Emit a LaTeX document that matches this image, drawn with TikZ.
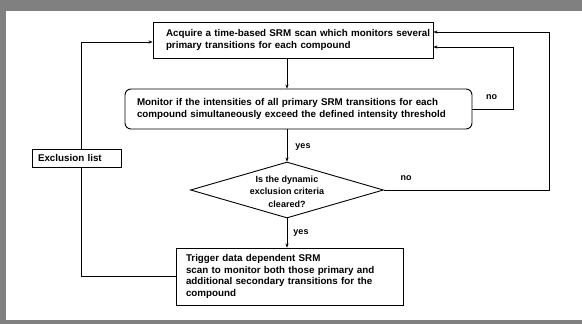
\documentclass[tikz,border=0pt]{standalone}
\usepackage{fontspec}
\setmainfont{Liberation Sans}
\usetikzlibrary{shapes.geometric,arrows.meta}
\definecolor{framegray}{RGB}{128,128,128}
\begin{document}
\begin{tikzpicture}[x=1pt,y=-1pt,
  every node/.style={font=\fontsize{9}{11.5}\selectfont\bfseries},
  box/.style={draw=black,line width=0.9pt,fill=white,inner xsep=0pt,inner ysep=0pt,align=left,
    font={\fontsize{9.8}{11.6}\selectfont\bfseries}},
  conn/.style={draw=black,line width=0.8pt},
  arr/.style={conn,-{Stealth[length=4pt,width=3.2pt]}},
  lbl/.style={inner sep=0pt}]
\useasboundingbox (0,0) rectangle (582,324);
\fill[framegray] (0,0) rectangle (582,324);
\fill[white] (6,11) rectangle (582,320);

\node[box,minimum width=280pt,minimum height=36pt,text width=254pt] (b1) at (293,40)
  {\mbox{Acquire a time-based SRM scan which monitors several}\\primary transitions for each compound};
\node[box,rounded corners=6pt,minimum width=347pt,minimum height=40pt,text width=323pt] (b2) at (298.5,109)
  {Monitor if the intensities of all primary SRM transitions for each\\compound simultaneously exceed the defined intensity threshold};
\node[diamond,draw=black,line width=0.9pt,minimum width=193pt,minimum height=56pt,inner sep=0pt] (d) at (287,190) {};
\node[align=center,inner sep=0pt,font=\fontsize{9}{12.3}\selectfont\bfseries] (dt) at (287,191.5)
  {Is the dynamic\\exclusion criteria\\cleared?};
\node[box,minimum width=227pt,minimum height=57pt,text width=207pt] (b3) at (289.5,276.5)
  {Trigger data dependent SRM\\scan to monitor both those primary and\\additional secondary transitions for the\\compound};
\node[box,minimum width=89pt,minimum height=18pt,text width=77pt] (ex) at (76.5,158) {Exclusion list};

\coordinate (xl) at (81,0);
\coordinate (rIn) at (513,109);
\coordinate (rOut) at (549,190);

\draw[arr] (b1.south -| d.north) -- (b2.north -| d.north);
\draw[arr] (b2.south -| d.north) -- (d.north);
\draw[arr] (d.south) -- (b3.north -| d.south);
\draw[arr] (b2.east) -- (rIn) |- ([yshift=-7pt]b1.east);
\draw[arr] (d.east) -- (rOut) |- ([yshift=8pt]b1.east);
\draw[conn] (b3.west) -| (xl |- ex.south);
\draw[arr] (xl |- ex.north) |- ([yshift=-2pt]b1.west);

\node[lbl] (y1) at (303,147) {yes};
\node[lbl] (y2) at (301,233) {yes};
\node[lbl] (n1) at (491.5,97) {no};
\node[lbl] (n2) at (406,178) {no};
\end{tikzpicture}
\end{document}
